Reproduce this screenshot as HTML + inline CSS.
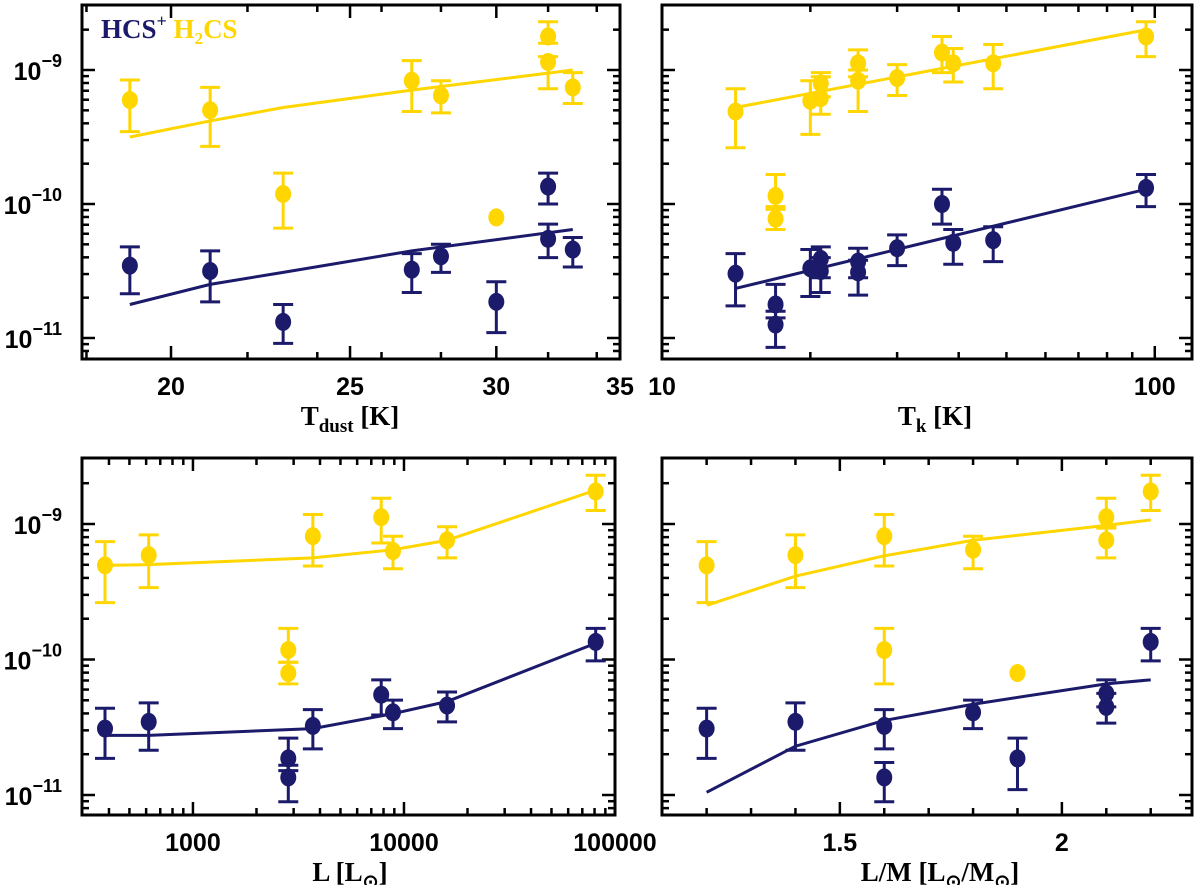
<!DOCTYPE html>
<html><head><meta charset="utf-8">
<style>
html,body{margin:0;padding:0;background:#fff;}
svg{display:block;}
text{font-family:"Liberation Sans",sans-serif;}
.tl{font-size:25px;font-weight:bold;fill:#000;}
.ttl{font-family:"Liberation Serif",serif;font-size:27px;font-weight:bold;fill:#000;}
</style></head>
<body>
<svg id="fig" width="1200" height="885" viewBox="0 0 1200 885" xmlns="http://www.w3.org/2000/svg"></svg>
<script>
// ---------- Data (log10 abundance) ----------
// Panel 1: T_dust
const p1YellowX = [19,21,23,27,28,30,32,32,33];
const p1YellowV = [-9.224,-9.30,-9.925,-9.08,-9.19,-10.10,-8.75,-8.94,-9.13];
const p1YellowLo = [-9.46,-9.57,-10.18,-9.31,-9.32,null,-8.80,-9.14,-9.25];
const p1YellowHi = [-9.075,-9.13,-9.77,-8.93,-9.08,null,-8.64,-8.90,-9.02];
const p1BlueX = [19,21,23,27,28,30,32,32,33];
const p1BlueV = [-10.46,-10.50,-10.88,-10.49,-10.39,-10.73,-9.87,-10.26,-10.34];
const p1BlueLo = [-10.67,-10.73,-11.04,-10.66,-10.51,-10.96,-10.00,-10.40,-10.47];
const p1BlueHi = [-10.32,-10.35,-10.75,-10.37,-10.30,-10.58,-9.77,-10.15,-10.25];
const p1YLineX = [19,21,23,27,33];
const p1YLineV = [-9.50,-9.38,-9.28,-9.15,-9.00];
const p1BLineX = [19,21,23,27,33];
const p1BLineV = [-10.75,-10.60,-10.51,-10.35,-10.19];
// Panel 2: T_k
const p2YellowX = [14.1,17,17,20,21,21,25,25,30,37,39,47,96];
const p2YellowV = [-9.31,-9.94,-10.11,-9.23,-9.10,-9.21,-8.95,-9.08,-9.06,-8.87,-8.95,-8.95,-8.75];
const p2YellowLo = [-9.58,-10.04,-10.19,-9.48,-9.20,-9.33,-9.05,-9.31,-9.19,-9.02,-9.09,-9.14,-8.90];
const p2YellowHi = [-9.14,-9.78,-10.02,-9.08,-9.02,-9.05,-8.85,-9.00,-8.96,-8.75,-8.84,-8.81,-8.64];
const p2BlueX = [14.1,17,17,20,21,21,25,25,30,37,39,47,96];
const p2BlueV = [-10.52,-10.75,-10.90,-10.48,-10.41,-10.50,-10.43,-10.51,-10.33,-10.00,-10.29,-10.27,-9.88];
const p2BlueLo = [-10.76,-10.85,-11.07,-10.69,-10.55,-10.66,-10.55,-10.68,-10.46,-10.15,-10.45,-10.43,-10.02];
const p2BlueHi = [-10.37,-10.60,-10.80,-10.34,-10.32,-10.40,-10.33,-10.42,-10.23,-9.89,-10.19,-10.17,-9.78];
const p2YLineX = [14.1,96];
const p2YLineV = [-9.28,-8.70];
const p2BLineX = [14.1,96];
const p2BLineV = [-10.63,-9.89];
// Panel 3: L
const p3YellowX = [383,617,2830,2830,3700,7800,8870,16000,81000];
const p3YellowV = [-9.305,-9.23,-9.93,-10.10,-9.09,-8.95,-9.20,-9.12,-8.76];
const p3YellowLo = [-9.58,-9.47,-10.02,-10.18,-9.31,-9.14,-9.33,-9.25,-8.90];
const p3YellowHi = [-9.13,-9.08,-9.77,-10.02,-8.93,-8.81,-9.09,-9.02,-8.64];
const p3BlueX = [383,617,2830,2830,3700,7800,8870,16000,81000];
const p3BlueV = [-10.51,-10.46,-10.73,-10.87,-10.49,-10.26,-10.39,-10.34,-9.87];
const p3BlueLo = [-10.73,-10.67,-10.82,-11.05,-10.66,-10.41,-10.51,-10.46,-10.01];
const p3BlueHi = [-10.36,-10.32,-10.58,-10.78,-10.37,-10.15,-10.30,-10.24,-9.77];
const p3YLineX = [383,617,3700,8870,16000,81000];
const p3YLineV = [-9.305,-9.30,-9.25,-9.19,-9.12,-8.75];
const p3BLineX = [383,617,3700,8870,16000,81000];
const p3BLineV = [-10.56,-10.56,-10.51,-10.40,-10.31,-9.88];
// Panel 4: L/M
const p4YellowX = [1.2,1.4,1.6,1.6,1.8,1.9,2.1,2.1,2.2];
const p4YellowV = [-9.305,-9.23,-9.09,-9.93,-9.19,-10.10,-8.95,-9.12,-8.76];
const p4YellowLo = [-9.58,-9.47,-9.31,-10.18,-9.33,null,-9.03,-9.25,-8.90];
const p4YellowHi = [-9.13,-9.08,-8.93,-9.77,-9.09,null,-8.81,-9.02,-8.64];
const p4BlueX = [1.2,1.4,1.6,1.6,1.8,1.9,2.1,2.1,2.2];
const p4BlueV = [-10.51,-10.46,-10.49,-10.87,-10.39,-10.73,-10.25,-10.35,-9.87];
const p4BlueLo = [-10.73,-10.67,-10.66,-11.05,-10.51,-10.96,-10.35,-10.47,-10.01];
const p4BlueHi = [-10.36,-10.32,-10.37,-10.76,-10.30,-10.58,-10.15,-10.25,-9.77];
const p4YLineX = [1.2,1.4,1.6,1.8,2.1,2.2];
const p4YLineV = [-9.60,-9.385,-9.235,-9.12,-9.01,-8.97];
const p4BLineX = [1.2,1.4,1.6,1.8,2.1,2.2];
const p4BLineV = [-10.98,-10.64,-10.45,-10.33,-10.18,-10.15];
// Tick labels
const p1XTicks = [20,25,30,35];
const p2XTicks = [10,100];
const p3XTicks = [1000,10000,100000];
const p4XTicks = [1.5,2];
const yTickExps = [-9,-10,-11];

const NS="http://www.w3.org/2000/svg";
const svg=document.getElementById('fig');
const YEL="#ffd600", BLU="#1b1a6b";
function mk(tag,attrs,parent){const e=document.createElementNS(NS,tag);for(const k in attrs)e.setAttribute(k,attrs[k]);(parent||svg).appendChild(e);return e;}

function panel(cfg){
  const g=mk('g',{});
  
  
  const {x0,x1,y0,y1}=cfg;
  const X=cfg.log?(v=>x0+(Math.log10(v)-Math.log10(cfg.xmin))/(Math.log10(cfg.xmax)-Math.log10(cfg.xmin))*(x1-x0))
                 :(v=>x0+(v-cfg.xmin)/(cfg.xmax-cfg.xmin)*(x1-x0));
  const Y=v=>cfg.y9+(-9-v)*cfg.dec;
  const yt=mk('g',{stroke:'#000','stroke-width':2.5},g);
  
  
  for(let e=-12;e<=-8;e++){for(let m=1;m<=9;m++){const v=e+Math.log10(m);const y=Y(v);if(y<y0+2||y>y1-2)continue;const L=m==1?13:7;
    mk('line',{x1:x0,y1:y,x2:x0+L,y2:y},yt);mk('line',{x1:x1,y1:y,x2:x1-L,y2:y},yt);}}
  const xt=mk('g',{stroke:'#000','stroke-width':2.5},g);
  
  
  cfg.minor.forEach(v=>{const x=X(v);if(x<x0+2||x>x1-2)return;mk('line',{x1:x,y1:y1,x2:x,y2:y1-7},xt);mk('line',{x1:x,y1:y0,x2:x,y2:y0+7},xt);});
  cfg.ticks.forEach(v=>{const x=X(v);if(x<x0+2||x>x1-2)return;mk('line',{x1:x,y1:y1,x2:x,y2:y1-13},xt);mk('line',{x1:x,y1:y0,x2:x,y2:y0+13},xt);});
  const fr=mk('rect',{x:x0,y:y0,width:x1-x0,height:y1-y0,fill:'none',stroke:'#000','stroke-width':3},g);
  
  
  cfg.ticks.forEach(v=>{const t=mk('text',{x:X(v),y:y1+36,'text-anchor':'middle',class:'tl'},g);t.textContent=String(v);
    
    });
  if(cfg.ylabels){yTickExps.forEach(e=>{const t=mk('text',{x:62,y:Y(e)+10,'text-anchor':'end',class:'tl'},g);
    
    
    const a=mk('tspan',{},t);a.textContent='10';const b=mk('tspan',{dy:-13,'font-size':'18px'},t);b.textContent='\u2212'+(-e);});}
  function series(xs,vs,lo,hi,col,nm){
    const sg=mk('g',{},g);
    
    
    xs.forEach((xv,i)=>{const x=X(xv);
      if(lo[i]!=null){const el=mk('path',{d:`M${x},${Y(lo[i])}V${Y(hi[i])}M${x-10},${Y(lo[i])}h20M${x-10},${Y(hi[i])}h20`,stroke:col,'stroke-width':3,fill:'none'},sg);
        
        }
      const c=mk('ellipse',{cx:x,cy:Y(vs[i]),rx:8,ry:9,fill:col},sg);
      
      });
  }
  function line(xs,vs,col,nm){const p=mk('polyline',{points:xs.map((xv,i)=>X(xv)+','+Y(vs[i])).join(' '),fill:'none',stroke:col,'stroke-width':3},g);
    
    }
  line(cfg.yl[0],cfg.yl[1],YEL,'h2cs-fit-line');
  line(cfg.bl[0],cfg.bl[1],BLU,'hcs-fit-line');
  series(cfg.ys[0],cfg.ys[1],cfg.ys[2],cfg.ys[3],YEL,'h2cs-points');
  series(cfg.bs[0],cfg.bs[1],cfg.bs[2],cfg.bs[3],BLU,'hcs-points');
  const tt=mk('text',{x:cfg.tx,y:y1+66,'text-anchor':'middle',class:'ttl'},g);
  
  
  cfg.title(tt);
}
function span(t,txt,attrs){const s=mk('tspan',attrs||{},t);s.textContent=txt;return s;}

panel({name:'panel-tdust',x0:82,x1:620,y0:5,y1:359,log:true,xmin:17.9,xmax:35,y9:70,dec:134,ylabels:true,
  ticks:p1XTicks,minor:[18,22,24,26,28,32,34],tx:350,
  ys:[p1YellowX,p1YellowV,p1YellowLo,p1YellowHi],bs:[p1BlueX,p1BlueV,p1BlueLo,p1BlueHi],
  yl:[p1YLineX,p1YLineV],bl:[p1BLineX,p1BLineV],
  title:t=>{span(t,'T');span(t,'dust',{dy:7,'font-size':'19px'});span(t,' [K]',{dy:-7});}});
panel({name:'panel-tk',x0:662,x1:1192,y0:5,y1:359,log:true,xmin:10,xmax:119,y9:70,dec:134,ylabels:false,
  ticks:p2XTicks,minor:[20,30,40,50,60,70,80,90],tx:935,
  ys:[p2YellowX,p2YellowV,p2YellowLo,p2YellowHi],bs:[p2BlueX,p2BlueV,p2BlueLo,p2BlueHi],
  yl:[p2YLineX,p2YLineV],bl:[p2BLineX,p2BLineV],
  title:t=>{span(t,'T');span(t,'k',{dy:7,'font-size':'19px'});span(t,' [K]',{dy:-7});}});
panel({name:'panel-luminosity',x0:82,x1:615,y0:458,y1:815,log:true,xmin:298,xmax:100000,y9:524,dec:135.5,ylabels:true,
  ticks:p3XTicks,minor:[300,400,500,600,700,800,900,2000,3000,4000,5000,6000,7000,8000,9000,20000,30000,40000,50000,60000,70000,80000,90000],tx:350,
  ys:[p3YellowX,p3YellowV,p3YellowLo,p3YellowHi],bs:[p3BlueX,p3BlueV,p3BlueLo,p3BlueHi],
  yl:[p3YLineX,p3YLineV],bl:[p3BLineX,p3BLineV],
  title:t=>{span(t,'L [L');span(t,'\u2299',{dy:7,'font-size':'19px'});span(t,']',{dy:-7});}});
panel({name:'panel-lm',x0:662,x1:1192,y0:458,y1:815,log:false,xmin:1.0995,xmax:2.293,y9:524,dec:135.5,ylabels:false,
  ticks:p4XTicks,minor:[1.2,1.3,1.4,1.6,1.7,1.8,1.9,2.1,2.2],tx:940,
  ys:[p4YellowX,p4YellowV,p4YellowLo,p4YellowHi],bs:[p4BlueX,p4BlueV,p4BlueLo,p4BlueHi],
  yl:[p4YLineX,p4YLineV],bl:[p4BLineX,p4BLineV],
  title:t=>{span(t,'L/M [L');span(t,'\u2299',{dy:7,'font-size':'19px'});span(t,'/M',{dy:-7});span(t,'\u2299',{dy:7,'font-size':'19px'});span(t,']',{dy:-7});}});

const lg=mk('text',{x:101,y:38,class:'ttl','font-size':'25px'});


const l1=span(lg,'HCS',{fill:BLU});


span(lg,'+',{fill:BLU,dy:-11,'font-size':'18px'});
const l2=span(lg,' H',{fill:YEL,dy:11});


span(lg,'2',{fill:YEL,dy:6,'font-size':'17px'});
span(lg,'CS',{fill:YEL,dy:-6});
</script>
</body></html>
